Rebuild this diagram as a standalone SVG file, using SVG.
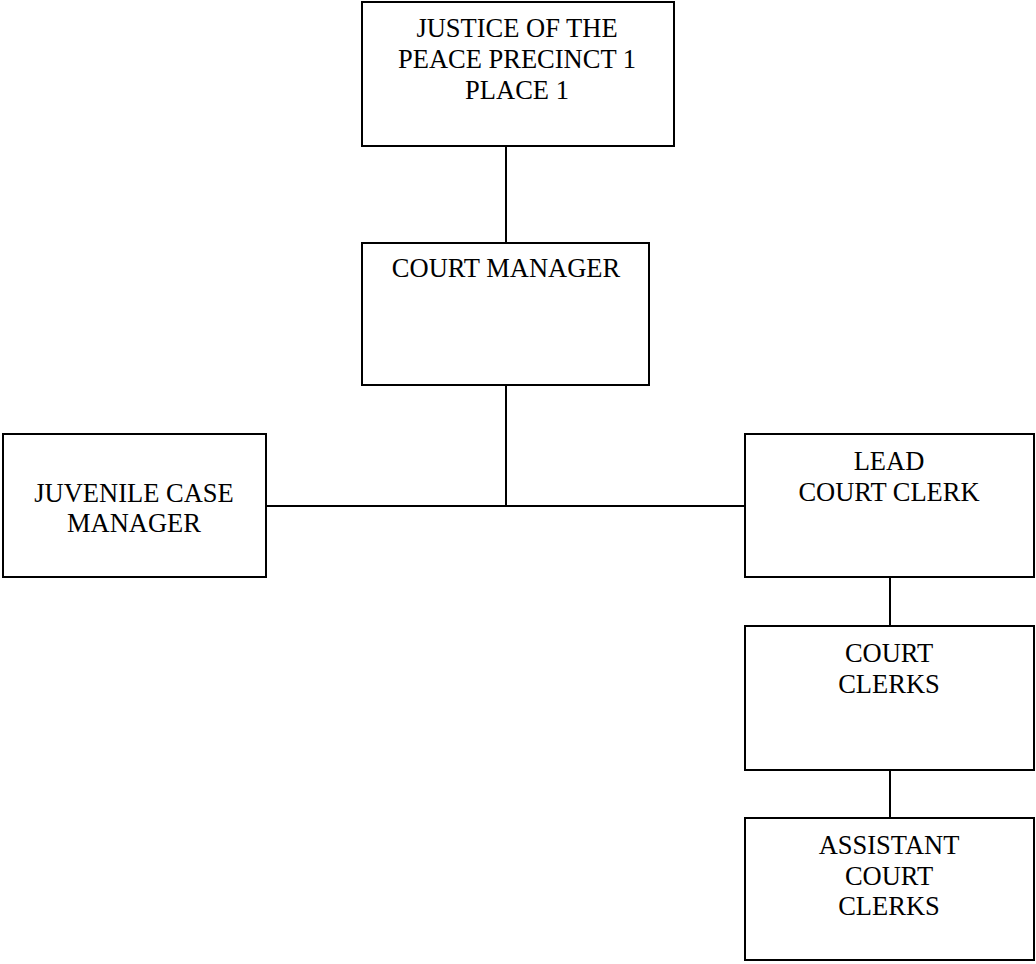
<svg xmlns="http://www.w3.org/2000/svg" width="1036" height="964" viewBox="0 0 1036 964">
  <style>
    .box { fill: #ffffff; stroke: #000000; stroke-width: 2; }
    .lbl { font-family: "Liberation Serif", "Times New Roman", serif; font-size: 26.5px; fill: #000000; text-anchor: middle; }
    .conn line { stroke: #000000; stroke-width: 2; }
  </style>
  <rect width="1036" height="964" fill="#ffffff"/>

  <!-- connectors -->
  <g id="connectors" class="conn">
    <line x1="506" y1="146" x2="506" y2="243"/>
    <line x1="506" y1="385" x2="506" y2="506"/>
    <line x1="266" y1="506" x2="745" y2="506"/>
    <line x1="890" y1="577" x2="890" y2="626"/>
    <line x1="890" y1="770" x2="890" y2="818"/>
  </g>

  <g id="justice">
    <rect class="box" x="362" y="2" width="312" height="144"/>
    <text class="lbl" x="517" y="37">JUSTICE OF THE</text>
    <text class="lbl" x="517" y="68">PEACE PRECINCT 1</text>
    <text class="lbl" x="517" y="99">PLACE 1</text>
  </g>

  <g id="court-manager">
    <rect class="box" x="362" y="243" width="287" height="142"/>
    <text class="lbl" x="506" y="277">COURT MANAGER</text>
  </g>

  <g id="juvenile-case-manager">
    <rect class="box" x="3" y="434" width="263" height="143"/>
    <text class="lbl" x="134" y="502">JUVENILE CASE</text>
    <text class="lbl" x="134" y="532">MANAGER</text>
  </g>

  <g id="lead-court-clerk">
    <rect class="box" x="745" y="434" width="289" height="143"/>
    <text class="lbl" x="889" y="470">LEAD</text>
    <text class="lbl" x="889" y="501">COURT CLERK</text>
  </g>

  <g id="court-clerks">
    <rect class="box" x="745" y="626" width="289" height="144"/>
    <text class="lbl" x="889" y="662">COURT</text>
    <text class="lbl" x="889" y="693">CLERKS</text>
  </g>

  <g id="assistant-court-clerks">
    <rect class="box" x="745" y="818" width="289" height="142"/>
    <text class="lbl" x="889" y="854">ASSISTANT</text>
    <text class="lbl" x="889" y="885">COURT</text>
    <text class="lbl" x="889" y="915">CLERKS</text>
  </g>
</svg>
